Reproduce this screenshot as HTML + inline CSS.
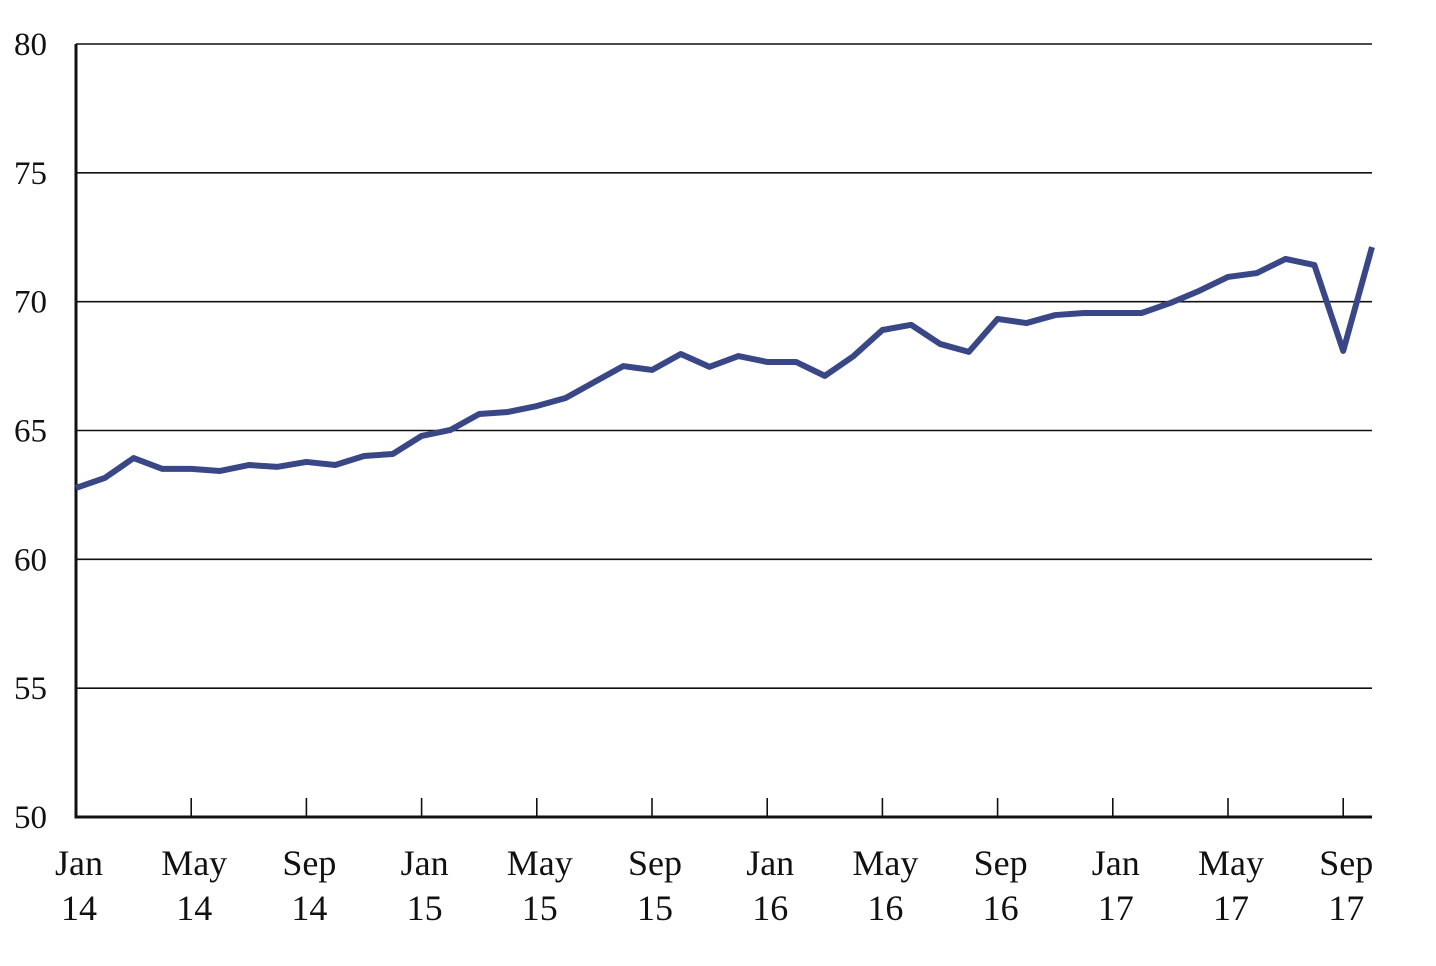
<!DOCTYPE html>
<html><head><meta charset="utf-8"><style>
body{margin:0;background:#fff;}
svg text{font-family:"Liberation Serif",serif;fill:#111;}
</style></head><body>
<svg id="chart" width="1436" height="961" xmlns="http://www.w3.org/2000/svg">
<g id="grid"></g><g id="axes"></g><g id="labels"></g><g id="series"></g>
</svg>
<script>
const values = [62.77,63.16,63.93,63.51,63.51,63.43,63.66,63.59,63.78,63.66,64.01,64.09,
64.79,65.02,65.64,65.72,65.95,66.26,66.88,67.5,67.35,67.97,67.47,67.89,
67.66,67.66,67.12,67.89,68.9,69.1,68.36,68.05,69.33,69.17,69.48,69.56,
69.56,69.56,69.95,70.42,70.96,71.11,71.66,71.42,68.09,72.12];
const yTicks = [50,55,60,65,70,75,80];
const xTickMonths = [0,4,8,12,16,20,24,28,32,36,40,44];
const xTickLine1 = ["Jan","May","Sep","Jan","May","Sep","Jan","May","Sep","Jan","May","Sep"];
const xTickLine2 = ["14","14","14","15","15","15","16","16","16","17","17","17"];

const NS="http://www.w3.org/2000/svg";
const x0=76,x1=1372,yTop=44,yBot=817;
const xs=m=>x0+m*(x1-x0)/45;
const ys=v=>yBot-(v-50)*(yBot-yTop)/30;
function mk(tag,attrs,parent){const e=document.createElementNS(NS,tag);for(const k in attrs)e.setAttribute(k,attrs[k]);document.getElementById(parent).appendChild(e);return e;}
yTicks.forEach(v=>{
  if(v>50){const g=mk('line',{x1:x0,x2:x1,y1:ys(v),y2:ys(v),stroke:'#111','stroke-width':1.6},'grid');
  
  }
  const t=mk('text',{x:14,y:ys(v)+11,'font-size':33},'labels');
  t.textContent=v;
  
  
});
xTickMonths.forEach((m,i)=>{
  const tk=mk('line',{x1:xs(m),x2:xs(m),y1:yBot-19,y2:yBot,stroke:'#111','stroke-width':1.6},'axes');
  
  
  const t1=mk('text',{x:xs(m)+3,y:875,'font-size':36,'text-anchor':'middle'},'labels');
  t1.textContent=xTickLine1[i];
  
  
  const t2=mk('text',{x:xs(m)+3,y:920,'font-size':36,'text-anchor':'middle'},'labels');
  t2.textContent=xTickLine2[i];
  
  
});
const ya=mk('line',{x1:x0,x2:x0,y1:yTop,y2:yBot+1.5,stroke:'#111','stroke-width':3},'axes');


const xa=mk('line',{x1:x0-1.5,x2:x1,y1:yBot,y2:yBot,stroke:'#111','stroke-width':3},'axes');


const pts=values.map((v,i)=>xs(i)+','+ys(v)).join(' ');
const pl=mk('polyline',{points:pts,fill:'none',stroke:'#3a4787','stroke-width':6,'stroke-linejoin':'round'},'series');


</script>
</body></html>
